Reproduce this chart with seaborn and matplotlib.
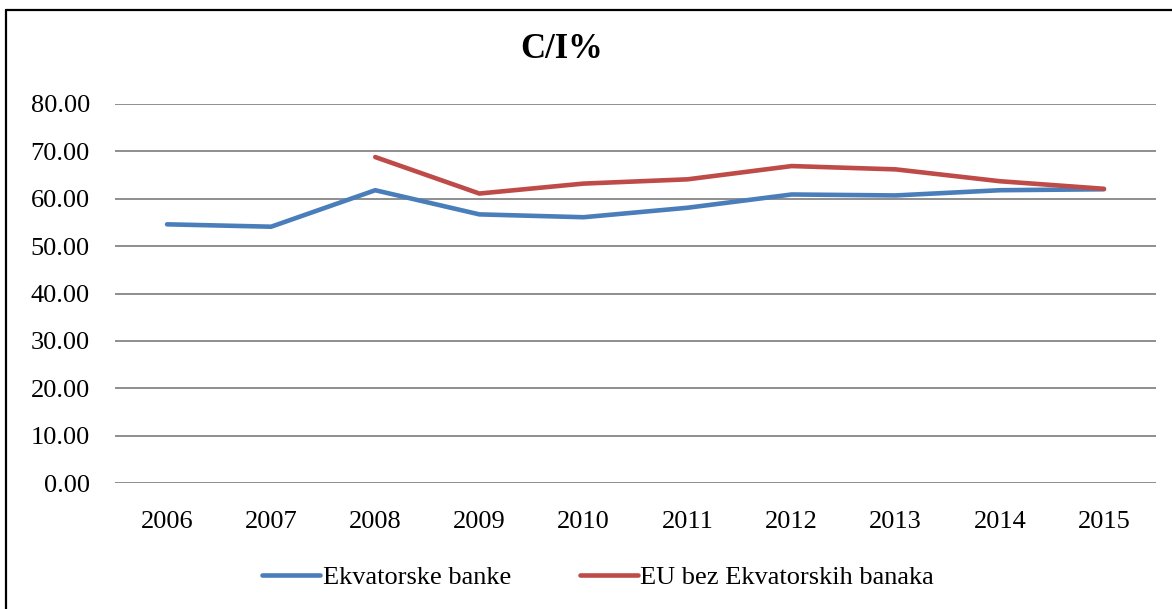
import numpy as np
import pandas as pd
import matplotlib
matplotlib.use("Agg")
import matplotlib.pyplot as plt
from matplotlib.lines import Line2D
import seaborn as sns

years = ["2006", "2007", "2008", "2009", "2010", "2011", "2012", "2013", "2014", "2015"]
ekvatorske = [54.6, 54.1, 61.8, 56.7, 56.1, 58.1, 60.9, 60.7, 61.8, 62.0]
eu_bez = [np.nan, np.nan, 68.8, 61.1, 63.2, 64.1, 66.9, 66.2, 63.7, 62.1]
series_names = ["Ekvatorske banke", "EU bez Ekvatorskih banaka"]
yticks = [0, 10, 20, 30, 40, 50, 60, 70, 80]

df = pd.concat([
    pd.DataFrame({"year": years, "value": ekvatorske, "series": series_names[0]}),
    pd.DataFrame({"year": years, "value": eu_bez, "series": series_names[1]}),
]).dropna()

sns.set_theme(style="white")
plt.rcParams["font.family"] = ["Liberation Serif", "DejaVu Serif"]
plt.rcParams["text.color"] = "black"
plt.rcParams["xtick.color"] = "black"
plt.rcParams["ytick.color"] = "black"

W, H = 1172, 609
fig = plt.figure(figsize=(W / 100, H / 100), dpi=100)
ax = fig.add_axes([115 / W, 1 - 483 / H, (1156 - 115) / W, (483 - 104) / H])

palette = {series_names[0]: "#4A7EBB", series_names[1]: "#BE4B48"}
sns.lineplot(data=df, x="year", y="value", hue="series", palette=palette,
             hue_order=series_names, linewidth=3.3, ax=ax, sort=False,
             solid_capstyle="round")

ax.set_xlim(-0.5, len(years) - 0.5)
ax.set_ylim(0, 80)
ax.set_yticks(yticks)
ax.set_yticklabels([f"{v:.2f}" for v in yticks])
ax.set_xticks(range(len(years)))
ax.set_xticklabels(years)
ax.set_xlabel("")
ax.set_ylabel("")
for s in ax.spines.values():
    s.set_visible(False)
ax.grid(axis="y", color="#868686", linewidth=1.3)
ax.grid(axis="x", visible=False)
ax.set_axisbelow(True)
ax.tick_params(axis="y", length=0, pad=18, labelsize=19, labelcolor="black")
ax.tick_params(axis="x", length=0, pad=20, labelsize=19, labelcolor="black")

leg = ax.legend(loc="center", bbox_to_anchor=(598 / W, 1 - 577 / H),
                bbox_transform=fig.transFigure, ncol=2, frameon=False,
                fontsize=19, handlelength=2.2, handletextpad=0.1,
                columnspacing=2.6)
for h in leg.get_lines():
    h.set_linewidth(3.3)
for t in leg.get_texts():
    t.set_color("black")

fig.text(562 / W, 1 - 50 / H, "C/I%", ha="center", va="center",
         fontsize=25, fontweight="bold", color="black")

# outer frame (left and top edges)
fig.add_artist(Line2D([6 / W, 6 / W], [0, 1 - 10 / H], color="black",
                      linewidth=1.6, transform=fig.transFigure))
fig.add_artist(Line2D([6 / W, 1], [1 - 10 / H, 1 - 10 / H], color="black",
                      linewidth=1.6, transform=fig.transFigure))

fig.savefig("out.png", dpi=100, facecolor="white")
